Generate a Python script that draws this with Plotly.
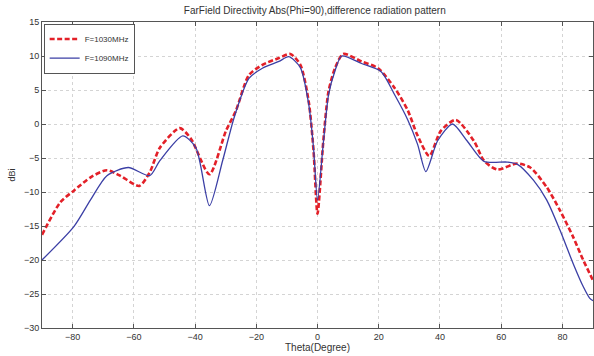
import plotly.graph_objects as go

theta_1030 = [-90, -84, -79.6, -74, -68.8, -64.5, -58.2, -54.8, -51.5, -45, -41.3, -35.3, -29.9, -26.7,
              -22.4, -18, -12.6, -8.9, -5.6, -2.9, -1.3, 0, 1.9, 3.6, 5.7, 8.4, 14.4, 19.8, 25.2, 29.5,
              32.5, 36.5, 40.3, 45.2, 51.1, 54.4, 58.7, 65.2, 69.5, 74.9, 79.2, 83.5, 86.8, 90]
dbi_1030 = [-16.3, -11.5, -9.8, -7.8, -6.8, -7.6, -9.1, -7.1, -3.5, -0.6, -2.2, -7.4, -1.0, 1.9,
            7.2, 8.7, 9.7, 10.3, 8.7, 3.4, -3.9, -13.2, -2.5, 4.8, 8.2, 10.3, 9.2, 8.2, 5.3, 2.0,
            -1.5, -4.7, -1.0, 0.6, -2.5, -5.4, -6.7, -5.8, -6.4, -9.3, -12.7, -16.6, -20.0, -23.0]

theta_1090 = [-90, -79.6, -74.2, -68.8, -61.8, -54.8, -51.5, -44, -39.7, -35.3, -31, -27.2,
              -22.4, -18, -12.6, -9.4, -5.6, -2.9, -1.3, 0, 1.9, 3.6, 5.7, 7.9, 14.4, 20.8, 25.2, 29.5,
              32.7, 35.4, 39.2, 44.1, 48.9, 54.4, 61.9, 65.2, 70.6, 74.9, 79.2, 83.5, 86.8, 88.9, 90]
dbi_1090 = [-20.0, -15.1, -11.2, -7.6, -6.4, -7.6, -5.4, -1.75, -3.5, -12.0, -5.4, 1.0,
            6.7, 8.2, 9.2, 9.9, 8.3, 3.0, -3.5, -11.2, -2.8, 4.3, 7.8, 10.0, 8.9, 7.7, 4.3, 0.6,
            -3.0, -7.0, -2.5, 0.0, -2.5, -5.5, -5.6, -5.9, -8.3, -11.2, -15.6, -20.5, -23.9, -25.6, -26.0]

x_ticks = [-80, -60, -40, -20, 0, 20, 40, 60, 80]
y_ticks = [-30, -25, -20, -15, -10, -5, 0, 5, 10, 15]

fig = go.Figure()
fig.add_trace(go.Scatter(x=theta_1030, y=dbi_1030, mode="lines", name="F=1030MHz",
                         line=dict(color="#e32028", width=2.6, dash="5px,2.5px", shape="spline", smoothing=0.7)))
fig.add_trace(go.Scatter(x=theta_1090, y=dbi_1090, mode="lines", name="F=1090MHz",
                         line=dict(color="#3b3fa5", width=1.3, shape="spline", smoothing=0.7)))

axis_common = dict(showline=True, linecolor="#555", linewidth=1, mirror="ticks", ticks="inside",
                   ticklen=4, tickcolor="#555", showgrid=True, gridcolor="#d4d4d4", griddash="dot",
                   gridwidth=1, zeroline=False, tickfont=dict(size=9, color="#333"))

fig.update_layout(
    width=594, height=356,
    margin=dict(l=42, r=1, t=22, b=28),
    paper_bgcolor="white", plot_bgcolor="white",
    font=dict(family="Liberation Sans, Arial, sans-serif", color="#333"),
    title=dict(text="FarField Directivity Abs(Phi=90),difference radiation pattern",
               x=0.53, xanchor="center", y=0.97, yanchor="middle", font=dict(size=10, color="#333")),
    xaxis=dict(range=[-90, 90], tickvals=x_ticks, **axis_common,
               title=dict(text="Theta(Degree)", font=dict(size=10, color="#333"), standoff=2)),
    yaxis=dict(range=[-30, 15], tickvals=y_ticks, **axis_common,
               title=dict(text="dBi", font=dict(size=9, color="#333"), standoff=6)),
    legend=dict(x=0.003, y=0.995, xanchor="left", yanchor="top", bgcolor="white",
                bordercolor="#555", borderwidth=1, font=dict(size=8, color="#333"),
                tracegroupgap=0, itemwidth=30),
    showlegend=True,
)

fig.write_html("out.html", config={"displayModeBar": False},
               post_script="document.body.style.margin='0';document.body.style.overflow='hidden';")
